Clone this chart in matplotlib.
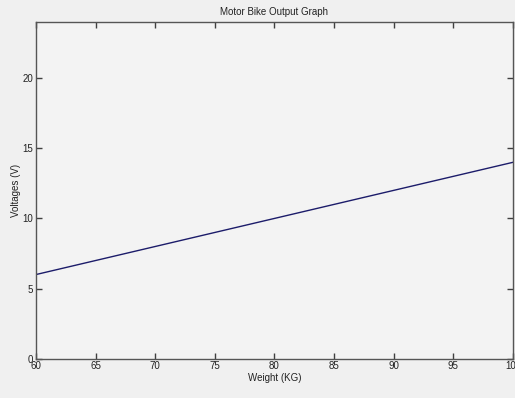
import matplotlib.pyplot as plt

# data
weight_kg = [60, 80, 100]
voltage_v = [6, 10, 14]

x_ticks = [60, 65, 70, 75, 80, 85, 90, 95, 100]
y_ticks = [0, 5, 10, 15, 20]

plt.rcParams['font.family'] = ['Liberation Sans', 'DejaVu Sans']

fig = plt.figure(figsize=(5.15, 3.98), dpi=100, facecolor='#f0f0f0')
ax = fig.add_axes([0.0699, 0.0987, 0.9262, 0.846])
ax.set_facecolor('#f3f3f3')

ax.plot(weight_kg, voltage_v, color='#1c1c6a', lw=1.0)

ax.set_xlim(60, 100)
ax.set_ylim(0, 24)
ax.set_xticks(x_ticks)
ax.set_yticks(y_ticks)

# matlab style box with inward ticks on all sides
ax.tick_params(direction='in', top=True, right=True, length=4, width=1,
               colors='#404040', labelsize=7, labelcolor='#222222', pad=2)
for s in ax.spines.values():
    s.set_color('#555555')
    s.set_linewidth(1.0)

ax.set_xlabel('Weight (KG)', fontsize=7, color='#222222', labelpad=1)
ax.set_ylabel('Voltages (V)', fontsize=7, color='#222222', labelpad=1)
ax.set_title('Motor Bike Output Graph', fontsize=7, color='#222222', pad=5)

plt.savefig('out.png', dpi=100, facecolor=fig.get_facecolor())
